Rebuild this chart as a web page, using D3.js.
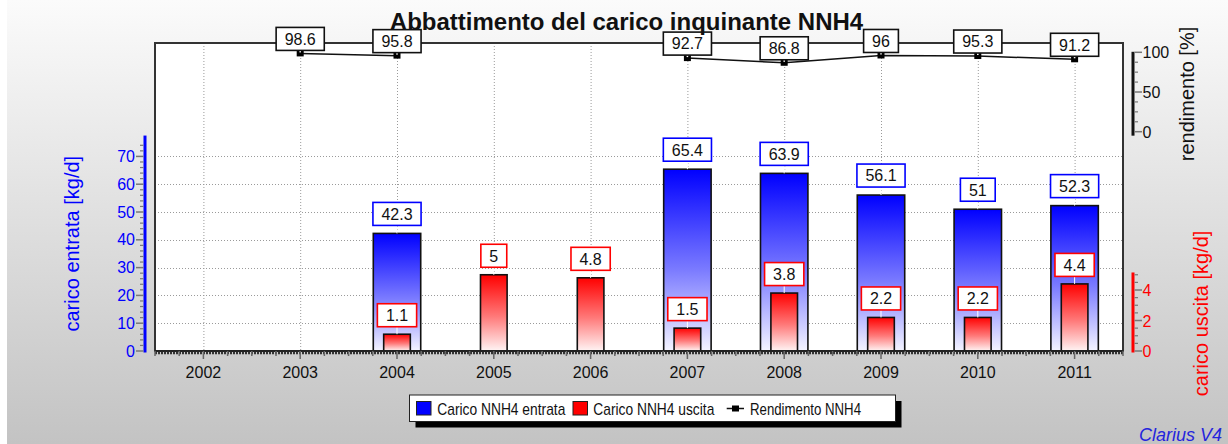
<!DOCTYPE html>
<html><head><meta charset="utf-8">
<script src="https://cdn.jsdelivr.net/npm/d3@7"></script>
<style>
html,body{margin:0;padding:0;background:#fff;}
svg{display:block;font-family:"Liberation Sans",Arial,Helvetica,sans-serif;}
</style></head>
<body>
<svg id="chart" width="1228" height="444"></svg>
<script>
// ---- data ----
const categories = ["2002","2003","2004","2005","2006","2007","2008","2009","2010","2011"];
const entrata = [null, null, 42.3, null, null, 65.4, 63.9, 56.1, 51, 52.3];
const uscita = [null, null, 1.1, 5, 4.8, 1.5, 3.8, 2.2, 2.2, 4.4];
const rendimento = [null, 98.6, 95.8, null, null, 92.7, 86.8, 96, 95.3, 91.2];
const entrataTicks = [0, 10, 20, 30, 40, 50, 60, 70];
const uscitaTicks = [0, 2, 4];
const rendTicks = [0, 50, 100];
const legendLabels = ["Carico NNH4 entrata", "Carico NNH4 uscita", "Rendimento NNH4"];
const titleText = "Abbattimento del carico inquinante NNH4";

// ---- layout ----
const W = 1228, H = 444;
const pL = 155, pR = 1123, pT = 43, pB = 351;
const svg = d3.select("#chart");
const defs = svg.append("defs");

const bg = defs.append("linearGradient").attr("id","bg").attr("x1",0).attr("y1",0).attr("x2",0).attr("y2",1);
bg.append("stop").attr("offset",0).attr("stop-color","#fbfbfb");
bg.append("stop").attr("offset",1).attr("stop-color","#c3c3c3");
const gb = defs.append("linearGradient").attr("id","gblue").attr("x1",0).attr("y1",0).attr("x2",0).attr("y2",1);
gb.append("stop").attr("offset",0).attr("stop-color","#0000ff");
gb.append("stop").attr("offset",0.55).attr("stop-color","#7a7aff");
gb.append("stop").attr("offset",1).attr("stop-color","#f4f4ff");
const gr = defs.append("linearGradient").attr("id","gred").attr("x1",0).attr("y1",0).attr("x2",0).attr("y2",1);
gr.append("stop").attr("offset",0).attr("stop-color","#ff0000");
gr.append("stop").attr("offset",0.55).attr("stop-color","#ff7a7a");
gr.append("stop").attr("offset",1).attr("stop-color","#fff4f4");

svg.append("rect").attr("x",7).attr("y",0).attr("width",W-7).attr("height",H).attr("fill","url(#bg)");

// ---- scales ----
const x = d3.scaleBand().domain(categories).range([pL, pR]).padding(0);
const bw = x.bandwidth();
const cx = c => x(c) + bw/2;
const yBlue = d3.scaleLinear().domain([0, 110.8]).range([pB, pT]);
const yRed = d3.scaleLinear().domain([0, 20.2]).range([pB, pT]);
const yRend = d3.scaleLinear().domain([0, 100]).range([131.7, 52.3]);

// plot area
svg.append("rect").attr("x",pL).attr("y",pT).attr("width",pR-pL).attr("height",pB-pT).attr("fill","#fff");

// grid
const grid = svg.append("g").attr("stroke","#9a9a9a").attr("stroke-width",1).attr("stroke-dasharray","1,2");
grid.selectAll(".gx").data(categories).join("line")
  .attr("x1",d=>cx(d)+0.5).attr("x2",d=>cx(d)+0.5).attr("y1",pT).attr("y2",pB);
grid.selectAll(".gy").data(entrataTicks.filter(t=>t>0)).join("line")
  .attr("x1",pL).attr("x2",pR).attr("y1",d=>Math.round(yBlue(d))+0.5).attr("y2",d=>Math.round(yBlue(d))+0.5);

// bars
const blueW = bw*0.49, redW = bw*0.275;
const barData = categories.map((c,i)=>({c, e:entrata[i], u:uscita[i], r:rendimento[i]}));
svg.append("g").selectAll("rect").data(barData.filter(d=>d.e!=null)).join("rect")
  .attr("x",d=>cx(d.c)-blueW/2).attr("width",blueW)
  .attr("y",d=>yBlue(d.e)).attr("height",d=>pB-yBlue(d.e))
  .attr("fill","url(#gblue)").attr("stroke","#111").attr("stroke-width",1.6);
svg.append("g").selectAll("rect").data(barData.filter(d=>d.u!=null)).join("rect")
  .attr("x",d=>cx(d.c)-redW/2).attr("width",redW)
  .attr("y",d=>yRed(d.u)).attr("height",d=>pB-yRed(d.u))
  .attr("fill","url(#gred)").attr("stroke","#111").attr("stroke-width",1.6);

// label box helper
function labelBox(g, xc, yc, text, color){
  const grp = g.append("g");
  const rect = grp.append("rect");
  const t = grp.append("text").attr("x",xc).attr("y",yc+5.8).attr("text-anchor","middle")
    .attr("font-size",16).attr("fill","#111").text(text);
  const tw = t.node().getComputedTextLength();
  const w = tw + 17, h = 23;
  rect.attr("x",xc-w/2).attr("y",yc-h/2).attr("width",w).attr("height",h)
    .attr("fill","#fff").attr("stroke",color).attr("stroke-width",1.6);
}
const lbl = svg.append("g");
barData.filter(d=>d.e!=null).forEach(d=>{
  const top = yBlue(d.e);
  lbl.append("line").attr("x1",cx(d.c)).attr("x2",cx(d.c)).attr("y1",top-8).attr("y2",top).attr("stroke","#fff").attr("stroke-width",1);
  labelBox(lbl, cx(d.c), top-19.5, String(d.e), "#0000ff");
});
barData.filter(d=>d.u!=null).forEach(d=>{
  const top = yRed(d.u);
  lbl.append("line").attr("x1",cx(d.c)).attr("x2",cx(d.c)).attr("y1",top-8).attr("y2",top).attr("stroke","#fff").attr("stroke-width",1);
  labelBox(lbl, cx(d.c), top-19, String(d.u), "#ff0000");
});

// plot border
svg.append("rect").attr("x",pL).attr("y",pT).attr("width",pR-pL).attr("height",pB-pT)
  .attr("fill","none").attr("stroke","#333").attr("stroke-width",2);

// x axis dense line
svg.append("line").attr("x1",pL).attr("x2",pR).attr("y1",pB).attr("y2",pB).attr("stroke","#222").attr("stroke-width",2);
svg.append("line").attr("x1",pL).attr("x2",pR).attr("y1",pB+2).attr("y2",pB+2).attr("stroke","#333").attr("stroke-width",2.5).attr("stroke-dasharray","2,1");
const xt = svg.append("g").attr("stroke","#666").attr("stroke-width",1.5);
categories.forEach(c=>{
  xt.append("line").attr("x1",cx(c)).attr("x2",cx(c)).attr("y1",pB).attr("y2",pB+8);
  [0,1,3].forEach(k=>{
    const xx = x(c)+k*bw/4;
    xt.append("line").attr("x1",xx).attr("x2",xx).attr("y1",pB).attr("y2",pB+5);
  });
});
xt.append("line").attr("x1",pR).attr("x2",pR).attr("y1",pB).attr("y2",pB+5);
svg.append("g").selectAll("text").data(categories).join("text")
  .attr("x",d=>cx(d)).attr("y",377.5).attr("text-anchor","middle").attr("font-size",16).attr("fill","#111").text(d=>d);

// rendimento line
const line = d3.line().defined(d=>d.r!=null).x(d=>cx(d.c)).y(d=>yRend(d.r));
svg.append("path").datum(barData).attr("d",line).attr("fill","none").attr("stroke","#111").attr("stroke-width",1.5);
const mk = svg.append("g");
barData.filter(d=>d.r!=null).forEach(d=>{
  const xx = cx(d.c), yy = yRend(d.r);
  mk.append("rect").attr("x",xx-3.5).attr("y",yy-3).attr("width",7).attr("height",6).attr("fill","#000");
  mk.append("rect").attr("x",xx-0.8).attr("y",yy-3).attr("width",1.6).attr("height",2).attr("fill","#fff");
});
barData.filter(d=>d.r!=null).forEach(d=>{
  labelBox(svg, cx(d.c), yRend(d.r)-14.5, String(d.r), "#111");
});

// left blue axis
const axB = svg.append("g");
const blueAxisX = 145;
axB.append("line").attr("x1",blueAxisX).attr("x2",blueAxisX).attr("y1",yBlue(0)+1.5).attr("y2",yBlue(77.5)).attr("stroke","#0000ff").attr("stroke-width",3);
d3.range(0, 76, 2).forEach(v=>{
  const major = v%10===0;
  axB.append("line").attr("x1",blueAxisX-(major?9:5)).attr("x2",blueAxisX-1.5).attr("y1",yBlue(v)).attr("y2",yBlue(v))
    .attr("stroke","#777").attr("stroke-width",major?1.5:1.2);
});
axB.selectAll("text").data(entrataTicks).join("text").attr("x",135).attr("y",d=>yBlue(d)+5.5)
  .attr("text-anchor","end").attr("font-size",16).attr("fill","#0000ff").text(d=>d);
svg.append("text").attr("transform",`translate(79,243.7) rotate(-90)`).attr("text-anchor","middle")
  .attr("font-size",20).attr("fill","#0000ff").text("carico entrata [kg/d]");

// right red axis
const axR = svg.append("g");
const redAxisX = 1133;
axR.append("line").attr("x1",redAxisX).attr("x2",redAxisX).attr("y1",yRed(0)+1.5).attr("y2",yRed(5.15)).attr("stroke","#ff0000").attr("stroke-width",3);
d3.range(0, 5.01, 0.5).forEach(v=>{
  const major = Math.abs(v%2)<1e-9;
  axR.append("line").attr("x1",redAxisX+1.5).attr("x2",redAxisX+(major?9:5)).attr("y1",yRed(v)).attr("y2",yRed(v))
    .attr("stroke","#777").attr("stroke-width",major?1.5:1.2);
});
axR.selectAll("text").data(uscitaTicks).join("text").attr("x",1142.5).attr("y",d=>yRed(d)+6)
  .attr("font-size",16).attr("fill","#ff0000").text(d=>d);
svg.append("text").attr("transform",`translate(1208,313.4) rotate(-90)`).attr("text-anchor","middle")
  .attr("font-size",20).attr("fill","#ff0000").text("carico uscita [kg/d]");

// right rendimento axis
const axK = svg.append("g");
axK.append("line").attr("x1",redAxisX).attr("x2",redAxisX).attr("y1",yRend(-5)).attr("y2",yRend(100)-0.5).attr("stroke","#111").attr("stroke-width",3);
d3.range(0, 100.1, 12.5).forEach(v=>{
  const major = v%50===0;
  axK.append("line").attr("x1",redAxisX+1.5).attr("x2",redAxisX+(major?9:5)).attr("y1",yRend(v)).attr("y2",yRend(v))
    .attr("stroke","#777").attr("stroke-width",major?1.5:1.2);
});
axK.selectAll("text").data(rendTicks).join("text").attr("x",1142.5).attr("y",d=>yRend(d)+6)
  .attr("font-size",16).attr("fill","#111").text(d=>d);
svg.append("text").attr("transform",`translate(1194,94) rotate(-90)`).attr("text-anchor","middle")
  .attr("font-size",20).attr("fill","#111").text("rendimento [%]");

// legend
const lg = svg.append("g");
const lx = 409.5, ly = 395, lw = 486, lh = 26.5;
lg.append("rect").attr("x",lx+6).attr("y",ly+6).attr("width",lw).attr("height",lh).attr("fill","#000");
lg.append("rect").attr("x",lx).attr("y",ly).attr("width",lw).attr("height",lh).attr("fill","#fff").attr("stroke","#222").attr("stroke-width",1);
const tBase = 415, tSize = 17;
lg.append("rect").attr("x",416.5).attr("y",401.5).attr("width",14.5).attr("height",13.5).attr("fill","#0000ff").attr("stroke","#222").attr("stroke-width",1);
lg.append("text").attr("x",437.3).attr("y",tBase).attr("font-size",tSize).attr("fill","#111")
  .attr("textLength",128).attr("lengthAdjust","spacingAndGlyphs").text(legendLabels[0]);
lg.append("rect").attr("x",573).attr("y",401.5).attr("width",14.5).attr("height",13.5).attr("fill","#ff0000").attr("stroke","#222").attr("stroke-width",1);
lg.append("text").attr("x",593.3).attr("y",tBase).attr("font-size",tSize).attr("fill","#111")
  .attr("textLength",121).attr("lengthAdjust","spacingAndGlyphs").text(legendLabels[1]);
lg.append("line").attr("x1",726.7).attr("x2",744).attr("y1",408.5).attr("y2",408.5).attr("stroke","#111").attr("stroke-width",1.5);
lg.append("rect").attr("x",732).attr("y",405.5).attr("width",7).attr("height",6).attr("fill","#000");
lg.append("text").attr("x",750).attr("y",tBase).attr("font-size",tSize).attr("fill","#111")
  .attr("textLength",111).attr("lengthAdjust","spacingAndGlyphs").text(legendLabels[2]);

// title & credit
svg.append("text").attr("x",626.5).attr("y",30).attr("text-anchor","middle").attr("font-size",24)
  .attr("font-weight","bold").attr("fill","#111").text(titleText);
svg.append("text").attr("x",1222).attr("y",440.5).attr("text-anchor","end").attr("font-size",18)
  .attr("font-style","italic").attr("fill","#2424dd").text("Clarius V4");
</script>
</body></html>
